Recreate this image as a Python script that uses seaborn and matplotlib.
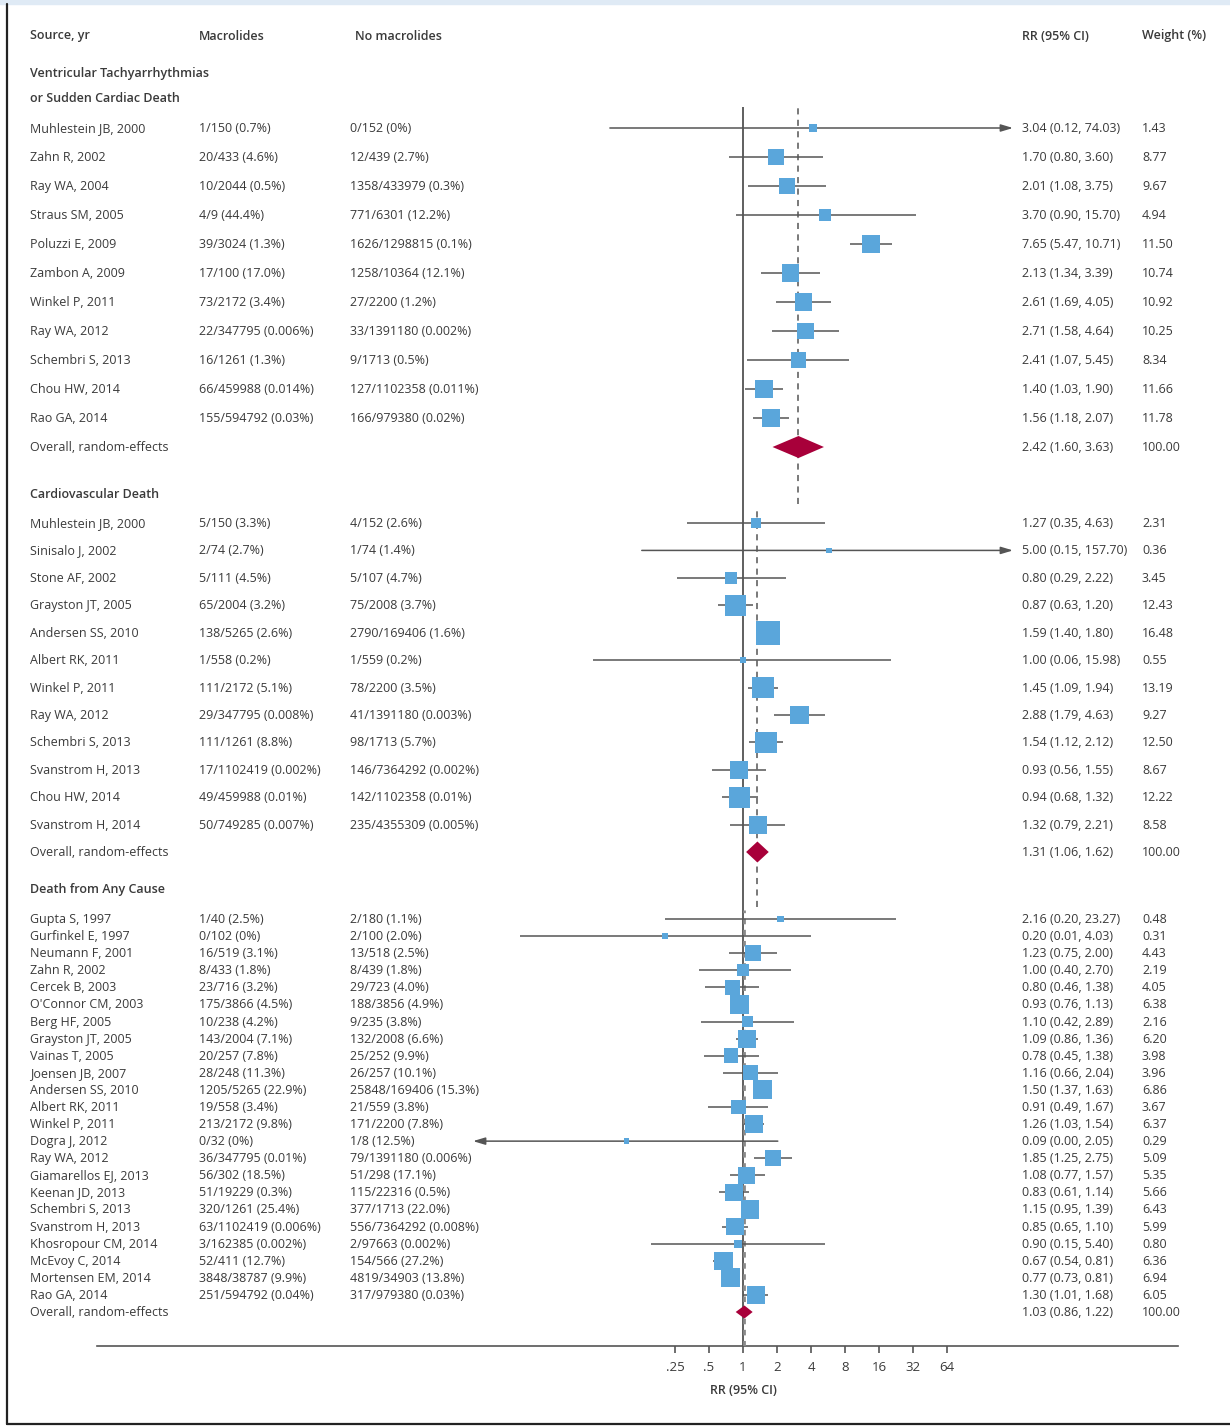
import numpy as np
import pandas as pd
import seaborn as sns
import matplotlib.pyplot as plt
from matplotlib.patches import Rectangle
from matplotlib.lines import Line2D

# ---- data ----
vt_study = ["Muhlestein JB, 2000", "Zahn R, 2002", "Ray WA, 2004", "Straus SM, 2005",
            "Poluzzi E, 2009", "Zambon A, 2009", "Winkel P, 2011", "Ray WA, 2012",
            "Schembri S, 2013", "Chou HW, 2014", "Rao GA, 2014"]
vt_mac = ["1/150 (0.7%)", "20/433 (4.6%)", "10/2044 (0.5%)", "4/9 (44.4%)", "39/3024 (1.3%)",
          "17/100 (17.0%)", "73/2172 (3.4%)", "22/347795 (0.006%)", "16/1261 (1.3%)",
          "66/459988 (0.014%)", "155/594792 (0.03%)"]
vt_nomac = ["0/152 (0%)", "12/439 (2.7%)", "1358/433979 (0.3%)", "771/6301 (12.2%)",
            "1626/1298815 (0.1%)", "1258/10364 (12.1%)", "27/2200 (1.2%)", "33/1391180 (0.002%)",
            "9/1713 (0.5%)", "127/1102358 (0.011%)", "166/979380 (0.02%)"]
vt_rr = [3.04, 1.70, 2.01, 3.70, 7.65, 2.13, 2.61, 2.71, 2.41, 1.40, 1.56]
vt_lo = [0.12, 0.80, 1.08, 0.90, 5.47, 1.34, 1.69, 1.58, 1.07, 1.03, 1.18]
vt_hi = [74.03, 3.60, 3.75, 15.70, 10.71, 3.39, 4.05, 4.64, 5.45, 1.90, 2.07]
vt_w = [1.43, 8.77, 9.67, 4.94, 11.50, 10.74, 10.92, 10.25, 8.34, 11.66, 11.78]
vt_overall = (2.42, 1.60, 3.63)

cv_study = ["Muhlestein JB, 2000", "Sinisalo J, 2002", "Stone AF, 2002", "Grayston JT, 2005",
            "Andersen SS, 2010", "Albert RK, 2011", "Winkel P, 2011", "Ray WA, 2012",
            "Schembri S, 2013", "Svanstrom H, 2013", "Chou HW, 2014", "Svanstrom H, 2014"]
cv_mac = ["5/150 (3.3%)", "2/74 (2.7%)", "5/111 (4.5%)", "65/2004 (3.2%)", "138/5265 (2.6%)",
          "1/558 (0.2%)", "111/2172 (5.1%)", "29/347795 (0.008%)", "111/1261 (8.8%)",
          "17/1102419 (0.002%)", "49/459988 (0.01%)", "50/749285 (0.007%)"]
cv_nomac = ["4/152 (2.6%)", "1/74 (1.4%)", "5/107 (4.7%)", "75/2008 (3.7%)", "2790/169406 (1.6%)",
            "1/559 (0.2%)", "78/2200 (3.5%)", "41/1391180 (0.003%)", "98/1713 (5.7%)",
            "146/7364292 (0.002%)", "142/1102358 (0.01%)", "235/4355309 (0.005%)"]
cv_rr = [1.27, 5.00, 0.80, 0.87, 1.59, 1.00, 1.45, 2.88, 1.54, 0.93, 0.94, 1.32]
cv_lo = [0.35, 0.15, 0.29, 0.63, 1.40, 0.06, 1.09, 1.79, 1.12, 0.56, 0.68, 0.79]
cv_hi = [4.63, 157.70, 2.22, 1.20, 1.80, 15.98, 1.94, 4.63, 2.12, 1.55, 1.32, 2.21]
cv_w = [2.31, 0.36, 3.45, 12.43, 16.48, 0.55, 13.19, 9.27, 12.50, 8.67, 12.22, 8.58]
cv_overall = (1.31, 1.06, 1.62)

ac_study = ["Gupta S, 1997", "Gurfinkel E, 1997", "Neumann F, 2001", "Zahn R, 2002",
            "Cercek B, 2003", "O'Connor CM, 2003", "Berg HF, 2005", "Grayston JT, 2005",
            "Vainas T, 2005", "Joensen JB, 2007", "Andersen SS, 2010", "Albert RK, 2011",
            "Winkel P, 2011", "Dogra J, 2012", "Ray WA, 2012", "Giamarellos EJ, 2013",
            "Keenan JD, 2013", "Schembri S, 2013", "Svanstrom H, 2013", "Khosropour CM, 2014",
            "McEvoy C, 2014", "Mortensen EM, 2014", "Rao GA, 2014"]
ac_mac = ["1/40 (2.5%)", "0/102 (0%)", "16/519 (3.1%)", "8/433 (1.8%)", "23/716 (3.2%)",
          "175/3866 (4.5%)", "10/238 (4.2%)", "143/2004 (7.1%)", "20/257 (7.8%)",
          "28/248 (11.3%)", "1205/5265 (22.9%)", "19/558 (3.4%)", "213/2172 (9.8%)",
          "0/32 (0%)", "36/347795 (0.01%)", "56/302 (18.5%)", "51/19229 (0.3%)",
          "320/1261 (25.4%)", "63/1102419 (0.006%)", "3/162385 (0.002%)", "52/411 (12.7%)",
          "3848/38787 (9.9%)", "251/594792 (0.04%)"]
ac_nomac = ["2/180 (1.1%)", "2/100 (2.0%)", "13/518 (2.5%)", "8/439 (1.8%)", "29/723 (4.0%)",
            "188/3856 (4.9%)", "9/235 (3.8%)", "132/2008 (6.6%)", "25/252 (9.9%)",
            "26/257 (10.1%)", "25848/169406 (15.3%)", "21/559 (3.8%)", "171/2200 (7.8%)",
            "1/8 (12.5%)", "79/1391180 (0.006%)", "51/298 (17.1%)", "115/22316 (0.5%)",
            "377/1713 (22.0%)", "556/7364292 (0.008%)", "2/97663 (0.002%)", "154/566 (27.2%)",
            "4819/34903 (13.8%)", "317/979380 (0.03%)"]
ac_rr = [2.16, 0.20, 1.23, 1.00, 0.80, 0.93, 1.10, 1.09, 0.78, 1.16, 1.50, 0.91, 1.26,
         0.09, 1.85, 1.08, 0.83, 1.15, 0.85, 0.90, 0.67, 0.77, 1.30]
ac_lo = [0.20, 0.01, 0.75, 0.40, 0.46, 0.76, 0.42, 0.86, 0.45, 0.66, 1.37, 0.49, 1.03,
         0.00, 1.25, 0.77, 0.61, 0.95, 0.65, 0.15, 0.54, 0.73, 1.01]
ac_hi = [23.27, 4.03, 2.00, 2.70, 1.38, 1.13, 2.89, 1.36, 1.38, 2.04, 1.63, 1.67, 1.54,
         2.05, 2.75, 1.57, 1.14, 1.39, 1.10, 5.40, 0.81, 0.81, 1.68]
ac_w = [0.48, 0.31, 4.43, 2.19, 4.05, 6.38, 2.16, 6.20, 3.98, 3.96, 6.86, 3.67, 6.37,
        0.29, 5.09, 5.35, 5.66, 6.43, 5.99, 0.80, 6.36, 6.94, 6.05]
ac_overall = (1.03, 0.86, 1.22)

ticks = [0.25, 0.5, 1, 2, 4, 8, 16, 32, 64]
tick_labels = [".25", ".5", "1", "2", "4", "8", "16", "32", "64"]

# ---- layout (pixels) ----
W, H = 1230, 1426
BLUE = "#5aa6db"
RED = "#a8003a"
TXT = "#3a3a3a"
LINE = "#555555"


def fx(px):
    return px / W


def fy(py):
    return 1 - py / H


sns.set_theme(style="white")
plt.rcParams["font.family"] = ["Open Sans", "DejaVu Sans"]
fs = 9

fig = plt.figure(figsize=(W / 100, H / 100), dpi=100)

# frame
fig.patches.append(Rectangle((0, fy(4)), 1, 4 / H, transform=fig.transFigure,
                             color="#dfeaf5", zorder=0))
fig.lines.append(Line2D([fx(7), fx(7)], [fy(4), fy(1424)], transform=fig.transFigure,
                        color="#222222", lw=1.6))
fig.lines.append(Line2D([fx(7), 1], [fy(1424), fy(1424)], transform=fig.transFigure,
                        color="#222222", lw=1.6))

# scale axis at the bottom (log2)
ax0 = fig.add_axes([fx(97), fy(1346), fx(1178) - fx(97), (1346 - 107) / H])
ax0.set_facecolor("none")
ax0.set_xscale("log", base=2)
ax0.set_xlim(2 ** ((97 - 743) / 34), 2 ** ((1178 - 743) / 34))
ax0.set_ylim(0, 1)
ax0.set_xticks(ticks)
ax0.set_xticklabels(tick_labels)
ax0.minorticks_off()
ax0.set_yticks([])
for s in ["top", "left", "right"]:
    ax0.spines[s].set_visible(False)
ax0.spines["bottom"].set_color(LINE)
ax0.spines["bottom"].set_linewidth(1.2)
ax0.tick_params(axis="x", direction="out", length=5, width=1.2, color=LINE,
                labelsize=fs + 0.5, labelcolor=TXT, pad=6, bottom=True)
ax0.axvline(1, color="#444444", lw=1.2, zorder=1)
fig.text(fx(743), fy(1390), "RR (95% CI)", fontsize=fs, color=TXT, fontweight="semibold",
         ha="center", va="center")

# header
hy = 36
for x, t in [(30, "Source, yr"), (199, "Macrolides"), (355, "No macrolides"),
             (1022, "RR (95% CI)"), (1142, "Weight (%)")]:
    fig.text(fx(x), fy(hy), t, fontsize=fs, color=TXT, fontweight="semibold", va="center")


def draw_section(title_lines, title_y, study, mac, nomac, rr, lo, hi, w, overall,
                 y0, step, top, bottom, half, max_side, dia_h, dash):
    ax = fig.add_axes([fx(473), fy(bottom), fx(1013) - fx(473), (bottom - top) / H])
    ax.set_facecolor("none")
    ax.set_xscale("log")
    xmin, xmax = np.exp(-half), np.exp(half)
    ax.set_xlim(xmin, xmax)
    ax.set_ylim(bottom, top)
    ax.axis("off")

    for k, t in enumerate(title_lines):
        fig.text(fx(30), fy(title_y + 24 * k), t, fontsize=fs, color=TXT,
                 fontweight="semibold", va="center")

    n = len(study)
    ys = y0 + step * np.arange(n + 1)
    rr = np.array(rr)
    lo = np.array(lo)
    hi = np.array(hi)
    w = np.array(w)
    lo_c = np.clip(lo, xmin, xmax)
    hi_c = np.clip(hi, xmin, xmax)

    # dashed overall line
    ax.axvline(overall[0], color=dash[0], lw=dash[1], ls=(0, dash[2]), zorder=1)

    for i in range(n):
        y = ys[i]
        if hi[i] >= xmax * 0.995:
            ax.annotate("", xy=(hi_c[i], y), xytext=(lo_c[i], y),
                        arrowprops=dict(arrowstyle="-|>,head_length=0.6,head_width=0.18",
                                        color=LINE, lw=1.1, shrinkA=0, shrinkB=0))
        elif lo[i] <= xmin * 1.005:
            ax.annotate("", xy=(lo_c[i], y), xytext=(hi_c[i], y),
                        arrowprops=dict(arrowstyle="-|>,head_length=0.6,head_width=0.18",
                                        color=LINE, lw=1.1, shrinkA=0, shrinkB=0))
        else:
            ax.hlines(y, lo_c[i], hi_c[i], color=LINE, lw=1.1, zorder=2)

    side = 2 + (max_side - 2) * np.sqrt(w / w.max())
    df = pd.DataFrame({"rr": rr, "y": ys[:n]})
    sns.scatterplot(data=df, x="rr", y="y", marker="s", color=BLUE, s=(side * 0.72) ** 2,
                    linewidth=0, ax=ax, zorder=3, clip_on=False, legend=False)
    ax.set_xlabel("")
    ax.set_ylabel("")

    # overall diamond
    est, olo, ohi = overall
    yo = ys[n]
    ax.fill([olo, est, ohi, est], [yo, yo - dia_h / 2, yo, yo + dia_h / 2],
            color=RED, lw=0, zorder=4)

    # text columns
    for i in range(n + 1):
        y = ys[i] + 0.5
        if i < n:
            cols = [(30, study[i]), (199, mac[i]), (350, nomac[i]),
                    (1022, f"{rr[i]:.2f} ({lo[i]:.2f}, {hi[i]:.2f})"), (1142, f"{w[i]:.2f}")]
        else:
            cols = [(30, "Overall, random-effects"),
                    (1022, f"{est:.2f} ({olo:.2f}, {ohi:.2f})"), (1142, "100.00")]
        for x, t in cols:
            fig.text(fx(x), fy(y), t, fontsize=fs, color=TXT, va="center")


draw_section(["Ventricular Tachyarrhythmias", "or Sudden Cardiac Death"], 74,
             vt_study, vt_mac, vt_nomac, vt_rr, vt_lo, vt_hi, vt_w, vt_overall,
             y0=128, step=29, top=107, bottom=504, half=4.30, max_side=18, dia_h=22,
             dash=("#555555", 1.1, (4, 3.5)))
draw_section(["Cardiovascular Death"], 494,
             cv_study, cv_mac, cv_nomac, cv_rr, cv_lo, cv_hi, cv_w, cv_overall,
             y0=523, step=(852 - 523) / 12, top=507, bottom=907, half=5.06, max_side=24,
             dia_h=21, dash=("#555555", 1.1, (4, 3.5)))
draw_section(["Death from Any Cause"], 889,
             ac_study, ac_mac, ac_nomac, ac_rr, ac_lo, ac_hi, ac_w, ac_overall,
             y0=919, step=(1312 - 919) / 23, top=910, bottom=1346, half=5.57, max_side=19,
             dia_h=13, dash=("#8a8a8a", 2.0, (2, 2)))

fig.savefig("out.png", dpi=100)
